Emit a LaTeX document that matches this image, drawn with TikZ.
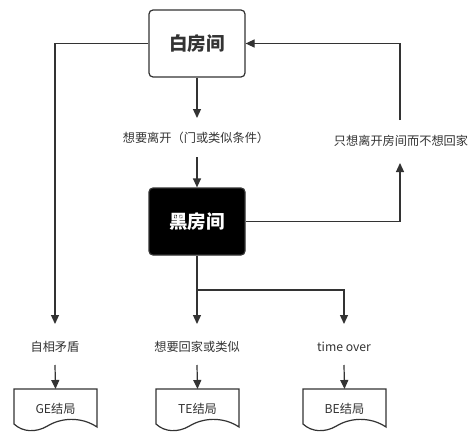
\documentclass[tikz,border=0pt]{standalone}
\usepackage{fontspec}
\setmainfont{Noto Sans CJK SC}
\usetikzlibrary{arrows.meta}
\definecolor{ln}{HTML}{333333}
\tikzset{
  room/.style={draw=ln, line width=1.2pt, rounded corners=4pt, minimum width=96pt, minimum height=67pt, inner sep=0pt, font=\fontsize{18.5}{22}\selectfont\bfseries},
  lbl/.style={font=\fontsize{12.2}{14}\selectfont, text=ln, inner sep=0pt},
  doctext/.style={font=\fontsize{12.2}{14}\selectfont, text=ln, inner sep=0pt},
  conn/.style={draw=ln, line width=1.2pt, -{Triangle[length=9pt,width=8pt]}},
  docshape/.style={draw=ln, line width=1.2pt, fill=white},
}
\begin{document}
\begin{tikzpicture}[x=1pt,y=-1pt]
\useasboundingbox (0,0) rectangle (472,447);
\node[room, fill=white, text=ln] (white) at (197,43.5) {白房间};
\node[room, fill=black, text=white] (black) at (197,221.5) {黑房间};
\node[lbl] (leave) at (196,138) {想要离开（门或类似条件）};
\node[lbl] (only) at (401,141) {只想离开房间而不想回家};
\node[lbl] (self) at (55,347) {自相矛盾};
\node[lbl] (home) at (197,347) {想要回家或类似};
\node[lbl] (time) at (344,347) {time over};
% document shapes
\foreach \n/\cx/\t in {ge/55.5/GE结局, te/197.5/TE结局, be/344.5/BE结局}{
  \draw[docshape] (\cx-41.5,389) -- (\cx+41.5,389) -- (\cx+41.5,427)
     .. controls (\cx+25,416) and (\cx+5,418) .. (\cx-8,426)
     .. controls (\cx-20,433) and (\cx-33,432) .. (\cx-41.5,424) -- cycle;
  \node[doctext] (\n) at (\cx,409) {\t};
  \coordinate (\n top) at (\cx,389);
}
% connectors
\draw[conn] (white.south) -- (197,118);
\draw[conn] (197,157) -- (black.north);
\draw[conn] (white.west) -| (55,324);
\draw[conn] (55,365) -- (getop);
\draw[conn] (black.south) -- (197,324);
\draw[conn] (197,290) -| (344,324);
\draw[conn] (197,365) -- (tetop);
\draw[conn] (344,365) -- (betop);
\draw[conn] (black.east) -| (400,163);
\draw[conn] (400,120) |- (white.east);
\end{tikzpicture}
\end{document}
